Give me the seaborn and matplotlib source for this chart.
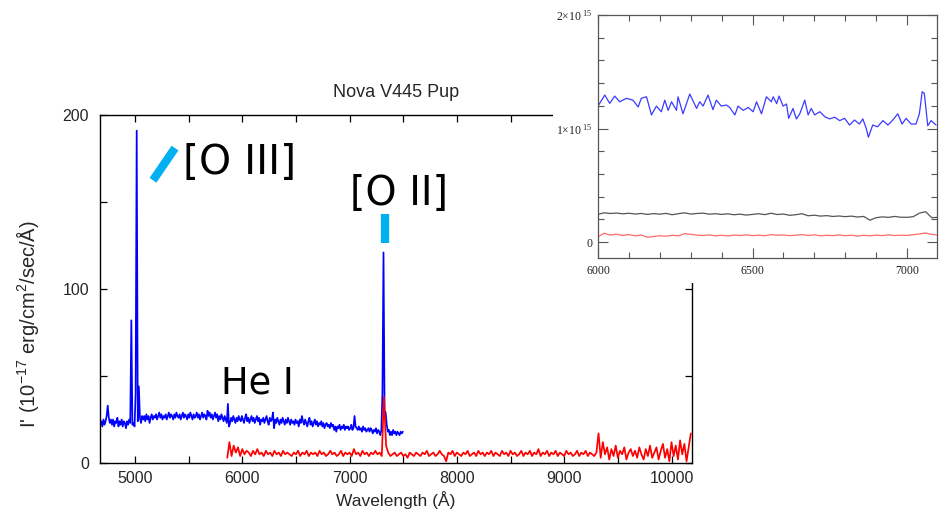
import numpy as np
import pandas as pd
import matplotlib
matplotlib.use("Agg")
import matplotlib.pyplot as plt
from matplotlib.ticker import MultipleLocator, FuncFormatter
from matplotlib.patches import Rectangle
from matplotlib.lines import Line2D
import seaborn as sns

# ---------------- data ----------------
title = "Nova V445 Pup"
xlabel = "Wavelength (Å)"
ylabel = r"I' (10$^{-17}$ erg/cm$^2$/sec/Å)"

# blue spectrum: wavelength grid 4686..7496 step 10 Å
blue_wl = np.arange(4686, 7497, 10)
blue_flux = [
    24, 21, 25, 22, 24, 27, 33, 26, 23, 25,
    22, 25, 21, 24, 23, 26, 21, 24, 22, 25,
    21, 24, 23, 20, 24, 22, 25, 23, 82, 22,
    23, 21, 40, 191, 24, 44, 26, 23, 27, 25,
    27, 24, 28, 25, 27, 23, 26, 28, 25, 27,
    26, 28, 25, 27, 29, 26, 28, 25, 27, 26,
    28, 25, 27, 29, 26, 28, 27, 25, 28, 26,
    29, 27, 26, 28, 25, 27, 29, 26, 28, 27,
    25, 28, 26, 29, 27, 25, 28, 26, 27, 29,
    26, 28, 25, 27, 29, 26, 28, 27, 25, 30,
    27, 29, 26, 28, 25, 27, 29, 26, 28, 24,
    27, 25, 28, 26, 24, 27, 25, 23, 34, 21,
    23, 26, 24, 27, 25, 23, 26, 24, 27, 25,
    24, 27, 25, 23, 26, 28, 24, 26, 23, 25,
    27, 24, 26, 23, 25, 27, 24, 26, 22, 25,
    24, 26, 23, 25, 27, 24, 22, 26, 24, 25,
    29, 20, 25, 23, 26, 24, 22, 25, 23, 26,
    24, 22, 25, 23, 26, 24, 22, 25, 23, 24,
    22, 25, 23, 24, 21, 25, 23, 27, 24, 22,
    25, 23, 21, 24, 26, 22, 24, 21, 23, 25,
    22, 24, 21, 23, 22, 24, 21, 23, 20, 22,
    23, 21, 22, 20, 23, 21, 22, 19, 21, 18,
    21, 20, 22, 19, 21, 20, 22, 19, 21, 20,
    21, 19, 20, 22, 19, 20, 27, 21, 20, 19,
    21, 19, 20, 18, 21, 19, 20, 18, 19, 20,
    18, 20, 19, 17, 19, 18, 20, 17, 19, 18,
    16, 19, 40, 121, 30, 29, 22, 18, 19, 16,
    18, 16, 19, 17, 18, 16, 18, 17, 16, 18,
    17, 18,
]

# red spectrum: wavelength grid 5860..10180 step 20 Å
red_wl = np.arange(5860, 10181, 20)
red_flux = [
    3, 12, 4, 10, 6, 9, 4, 8, 5, 7,
    6, 4, 7, 5, 8, 5, 6, 4, 7, 5,
    6, 4, 7, 5, 6, 4, 7, 5, 6, 5,
    4, 6, 5, 7, 4, 6, 5, 7, 4, 6,
    5, 6, 4, 7, 5, 6, 4, 5, 7, 5,
    6, 4, 5, 7, 4, 6, 5, 6, 4, 8,
    5, 6, 4, 7, 5, 6, 4, 6, 5, 7,
    5, 6, 4, 38, 10, 6, 4, 5, 6, 4,
    5, 6, 4, 5, 3, 6, 5, 4, 6, 5,
    4, 6, 5, 7, 4, 5, 6, 4, 5, 7,
    5, 4, 1, 6, 5, 7, 4, 6, 5, 4,
    6, 5, 7, 4, 5, 6, 4, 7, 5, 6,
    4, 6, 5, 7, 4, 6, 5, 4, 7, 5,
    6, 4, 7, 5, 6, 4, 5, 7, 4, 6,
    5, 7, 4, 6, 5, 8, 4, 6, 5, 7,
    4, 6, 5, 7, 4, 6, 5, 4, 7, 5,
    6, 4, 5, 7, 4, 6, 5, 7, 4, 6,
    5, 4, 6, 17, 3, 12, 5, 9, 2, 8,
    4, 10, 3, 7, 5, 9, 2, 6, 8, 4,
    7, 3, 9, 5, 2, 8, 4, 10, 3, 6,
    9, 2, 7, 11, 3, 8, 1, 12, 4, 10,
    2, 13, 5, 11, 1, 9, 17,
]

# line annotations: (label, x, y baseline, fontsize)
line_labels = [("[O III]", 5447, 166, 29.5), ("[O II]", 7004, 148, 28.5), ("He I", 5801, 40, 26.5)]
# cyan markers: (x0, y0, x1, y1)
markers = [(5168, 162.5, 5373, 181.0), (7330, 126.4, 7330, 143.1)]

# inset (units of 1e15)
inset_blue_wl = [6000, 6022, 6038, 6054, 6070, 6092, 6113, 6130, 6140, 6157,
                 6173, 6189, 6205, 6216, 6227, 6238, 6254, 6259, 6275, 6297,
                 6319, 6329, 6340, 6356, 6372, 6383, 6399, 6416, 6426, 6443,
                 6453, 6470, 6486, 6502, 6513, 6529, 6545, 6561, 6567, 6578,
                 6586, 6599, 6610, 6617, 6631, 6642, 6653, 6669, 6680, 6690,
                 6701, 6718, 6734, 6750, 6766, 6782, 6798, 6814, 6830, 6846,
                 6857, 6868, 6875, 6889, 6905, 6922, 6938, 6954, 6970, 6984,
                 6997, 7013, 7029, 7040, 7049, 7056, 7067, 7078, 7094]
inset_blue = [1.198, 1.295, 1.222, 1.286, 1.236, 1.266, 1.25, 1.19, 1.266, 1.28,
              1.12, 1.198, 1.148, 1.25, 1.16, 1.236, 1.16, 1.28, 1.13, 1.304,
              1.177, 1.236, 1.198, 1.295, 1.166, 1.25, 1.198, 1.207, 1.186, 1.12,
              1.198, 1.16, 1.186, 1.148, 1.236, 1.13, 1.28, 1.236, 1.28, 1.22,
              1.286, 1.198, 1.216, 1.09, 1.177, 1.085, 1.13, 1.25, 1.12, 1.177,
              1.12, 1.148, 1.104, 1.085, 1.1, 1.07, 1.09, 1.031, 1.075, 1.04,
              1.085, 1.001, 0.924, 1.031, 1.016, 1.07, 1.031, 1.075, 1.13, 1.04,
              1.09, 1.04, 1.04, 1.13, 1.324, 1.31, 1.025, 1.07, 1.031]
inset_grid = np.arange(6000, 7101, 20)
inset_black = [0.245, 0.258, 0.252, 0.256, 0.249, 0.254, 0.247, 0.252, 0.244, 0.251,
               0.246, 0.253, 0.241, 0.250, 0.258, 0.247, 0.252, 0.255, 0.246, 0.250,
               0.244, 0.249, 0.241, 0.246, 0.238, 0.244, 0.250, 0.242, 0.254, 0.243,
               0.247, 0.236, 0.241, 0.250, 0.232, 0.237, 0.229, 0.233, 0.226, 0.230,
               0.224, 0.229, 0.221, 0.226, 0.193, 0.215, 0.222, 0.218, 0.226, 0.219,
               0.218, 0.224, 0.255, 0.268, 0.215, 0.218]
inset_red = [0.048, 0.078, 0.062, 0.070, 0.058, 0.066, 0.055, 0.062, 0.042, 0.050,
             0.056, 0.052, 0.060, 0.055, 0.074, 0.068, 0.062, 0.058, 0.064, 0.055,
             0.060, 0.054, 0.062, 0.058, 0.064, 0.057, 0.061, 0.056, 0.066, 0.060,
             0.063, 0.057, 0.061, 0.066, 0.058, 0.064, 0.055, 0.060, 0.057, 0.063,
             0.056, 0.061, 0.053, 0.060, 0.055, 0.062, 0.057, 0.064, 0.058, 0.061,
             0.059, 0.065, 0.072, 0.080, 0.068, 0.062]

# ---------------- style ----------------
sns.set_style("ticks")
plt.rcParams["font.family"] = ["Liberation Sans", "DejaVu Sans"]
plt.rcParams["mathtext.fontset"] = "custom"
plt.rcParams["mathtext.rm"] = "Liberation Sans"
plt.rcParams["mathtext.it"] = "Liberation Sans:italic"

W, H = 939, 513
fig = plt.figure(figsize=(W / 100, H / 100), dpi=100)
fig.patch.set_facecolor("white")

# ---------------- main axes ----------------
ax = fig.add_axes([100 / W, 1 - 463 / H, 592 / W, 348 / H])
ax.set_facecolor("white")
sns.lineplot(x=blue_wl, y=blue_flux, ax=ax, color="#0000ff", lw=1.25,
             estimator=None, sort=False)
sns.lineplot(x=red_wl, y=red_flux, ax=ax, color="#ff0000", lw=1.25,
             estimator=None, sort=False)
ax.set_xlim(4674, 10191)
ax.set_ylim(0, 200)
ax.set_xticks([5000, 6000, 7000, 8000, 9000, 10000])
ax.xaxis.set_minor_locator(MultipleLocator(500))
ax.set_yticks([0, 100, 200])
ax.yaxis.set_minor_locator(MultipleLocator(50))
ax.tick_params(which="both", direction="in", top=True, right=True,
               length=5, width=0.9, color="black", labelsize=11.5)
ax.tick_params(axis="x", pad=6)
ax.tick_params(axis="y", pad=8)
for s in ax.spines.values():
    s.set_visible(True)
    s.set_color("black")
    s.set_linewidth(1.0)
ax.set_xlabel(xlabel, fontsize=12.5)
ax.set_ylabel(ylabel, fontsize=14.5)
ax.xaxis.set_label_coords(0.5, -0.082)
ax.yaxis.set_label_coords(-0.10, 0.40)
ax.text(0.5, (463 - 97) / 348, title, transform=ax.transAxes, ha="center",
        va="baseline", fontsize=13)

for lab, x, y, fs in line_labels:
    ax.text(x, y, lab, ha="left", va="baseline", fontsize=fs,
            family="DejaVu Sans", color="black")
for x0, y0, x1, y1 in markers:
    ax.add_line(Line2D([x0, x1], [y0, y1], color="#00b0f0", lw=6,
                       solid_capstyle="butt", zorder=5))

# ---------------- white backing for the inset ----------------
fig.patches.append(Rectangle((553 / W, 1 - 283 / H), 386 / W, 283 / H,
                             transform=fig.transFigure, facecolor="white",
                             edgecolor="none", zorder=1))

# ---------------- inset axes ----------------
ia = fig.add_axes([598 / W, 1 - 258 / H, 339 / W, 243 / H], zorder=3)
ia.set_facecolor("white")
sns.lineplot(x=inset_grid, y=inset_black, ax=ia, color="#555555", lw=0.9,
             estimator=None, sort=False)
sns.lineplot(x=inset_grid, y=inset_red, ax=ia, color="#ff6a6a", lw=0.9,
             estimator=None, sort=False)
sns.lineplot(x=inset_blue_wl, y=inset_blue, ax=ia, color="#3b3bff", lw=0.9,
             estimator=None, sort=False)
ia.set_xlim(6000, 7097)
ia.set_ylim(-0.14, 2.0)
ia.set_xticks([6000, 6500, 7000])
ia.xaxis.set_minor_locator(MultipleLocator(100))
ia.set_yticks([0, 1, 2])
ia.yaxis.set_minor_locator(MultipleLocator(0.2))


def yfmt(v, pos):
    if abs(v) < 1e-9:
        return "0"
    return r"$\mathregular{%d{\times}10^{\ 15}}$" % round(v)


ia.yaxis.set_major_formatter(FuncFormatter(yfmt))
ia.tick_params(which="both", direction="in", top=True, right=True,
               color="#555555", width=0.8, labelsize=8.5, labelcolor="#222222")
ia.tick_params(which="major", length=7)
ia.tick_params(which="minor", length=4)
ia.tick_params(axis="x", pad=5)
ia.tick_params(axis="y", pad=4)
for lab in ia.get_xticklabels() + ia.get_yticklabels():
    lab.set_family(["Liberation Serif", "DejaVu Serif"])
for s in ia.spines.values():
    s.set_visible(True)
    s.set_color("#555555")
    s.set_linewidth(0.9)
ia.set_xlabel("")
ia.set_ylabel("")

fig.savefig("out.png", dpi=100, facecolor="white")
